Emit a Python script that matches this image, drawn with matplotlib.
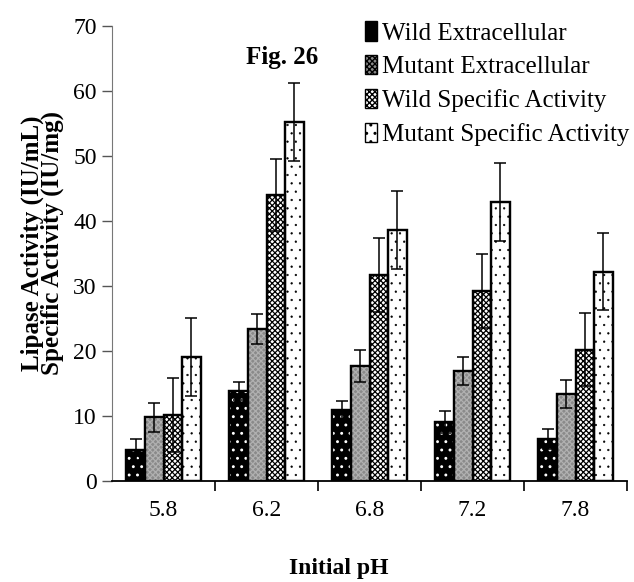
import numpy as np
import matplotlib.pyplot as plt
from matplotlib.patches import Patch

### data
ph = ['5.8', '6.2', '6.8', '7.2', '7.8']
series = ['Wild Extracellular', 'Mutant Extracellular',
          'Wild Specific Activity', 'Mutant Specific Activity']
wild_ext = [4.8, 13.8, 10.9, 9.1, 6.5]
mut_ext = [9.8, 23.4, 17.7, 16.9, 13.4]
wild_sa = [10.1, 44.0, 31.7, 29.2, 20.2]
mut_sa = [19.1, 55.3, 38.6, 42.9, 32.2]
wild_ext_err = [1.6, 1.4, 1.4, 1.7, 1.5]
mut_ext_err = [2.2, 2.3, 2.5, 2.2, 2.1]
wild_sa_err = [5.7, 5.5, 5.7, 5.7, 5.6]
mut_sa_err = [6.0, 6.0, 6.0, 6.0, 5.9]

values = [wild_ext, mut_ext, wild_sa, mut_sa]
errors = [wild_ext_err, mut_ext_err, wild_sa_err, mut_sa_err]

plt.rcParams['font.family'] = ['Liberation Serif', 'DejaVu Serif']

# face, hatch, hatch colour, hatch line width
styles = [('black', '..', 'white', 0.9),
          ('#8a8a8a', 'xxxxxx', '#b0b0b0', 0.9),
          ('white', 'xxxxxx', 'black', 0.9),
          ('white', '..', 'black', 0.4)]

fig = plt.figure(figsize=(6.34, 5.82), dpi=100)
ax = fig.add_axes([0.1767, 0.1735, 0.8123, 0.7818])

x = np.arange(len(ph))
w = 0.18
handles = []
for i in range(4):
    pos = x + (i - 1.5) * w
    face, hatch, hc, hlw = styles[i]
    with plt.rc_context({'hatch.linewidth': hlw}):
        ax.bar(pos, values[i], w, color=face, edgecolor='black', linewidth=1.6, zorder=2)
        ax.bar(pos, values[i], w, color='none', edgecolor=hc, hatch=hatch, linewidth=0, zorder=3)
        ax.bar(pos, values[i], w, color='none', edgecolor='black', linewidth=1.6, zorder=4)
        handles.append(Patch(facecolor=face, edgecolor='black', hatch=hatch, linewidth=1))
    ax.errorbar(pos, values[i], yerr=errors[i], fmt='none', ecolor='black',
                elinewidth=1.1, capsize=4, capthick=1.1, zorder=5)

ax.set_xlim(-0.5, len(ph) - 0.5)
ax.set_ylim(0, 70)
ax.set_yticks(np.arange(0, 71, 10))
ax.set_xticks(x)
ax.set_xticklabels(ph)
ax.set_xticks(np.arange(0.5, len(ph), 1), minor=True)
ax.tick_params(axis='x', which='major', length=0, labelsize=17, pad=14)
ax.tick_params(axis='x', which='minor', length=7, width=1.2, direction='out')
ax.tick_params(axis='y', labelsize=17, length=7, width=1, color='#555555', pad=4)
ax.spines['top'].set_visible(False)
ax.spines['right'].set_visible(False)
ax.spines['left'].set_color('#777777')
ax.spines['bottom'].set_linewidth(1.3)

ax.set_ylabel('Lipase Activity (IU/mL)\nSpecific Activity (IU/mg)',
              fontsize=18, fontweight='bold', linespacing=0.8)
ax.yaxis.set_label_coords(-0.093, 0.523)
ax.set_xlabel('Initial pH', fontsize=17, fontweight='bold')
ax.xaxis.set_label_coords(0.44, -0.17)
ax.text(0.33, 0.93, 'Fig. 26', transform=ax.transAxes, fontsize=18,
        fontweight='bold', ha='center', va='center')

ax.legend(handles, series, loc='upper left', bbox_to_anchor=(0.491, 1.01),
          frameon=False, fontsize=18, handlelength=0.5, handleheight=0.8,
          handletextpad=0.2, labelspacing=0.42, borderaxespad=0, borderpad=0)

plt.savefig('out.png', dpi=100)
